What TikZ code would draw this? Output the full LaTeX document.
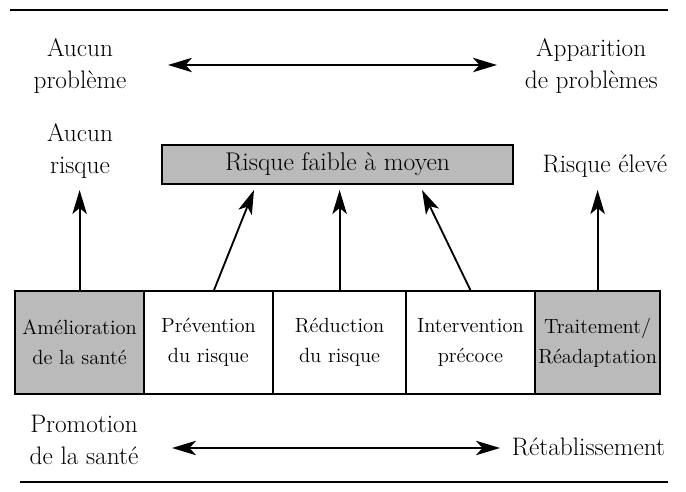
\documentclass[tikz,border=0pt]{standalone}
\usepackage{fontspec}
\usetikzlibrary{arrows.meta}
\colorlet{trame}{black!27}
\begin{document}
\begin{tikzpicture}[
    texte/.style={align=center, inner sep=2pt, font=\fontsize{18}{22.5}\selectfont},
    risque/.style={draw, line width=1.3pt, fill=trame, minimum width=8.775cm, minimum height=0.975cm, inner sep=0pt, font=\fontsize{18.2}{22}\selectfont},
    boite/.style={draw, line width=1.3pt, minimum height=2.575cm, inner sep=0pt, align=center, font=\fontsize{14.6}{21.5}\selectfont},
    fleche/.style={-{Stealth[length=6mm, width=3.6mm, inset=1.5mm]}, line width=1.3pt},
    bifleche/.style={{Stealth[length=6mm, width=3.6mm, inset=1.6mm]}-{Stealth[length=6mm, width=3.6mm, inset=1.6mm]}, line width=1.3pt}
]
    \useasboundingbox (0,0) rectangle (17.15,12.3);

    % Filets
    \draw[line width=1.3pt] (0.25,12.05) -- (16.7,12.05);
    \draw[line width=1pt] (0.5,0.25) -- (16.7,0.25);

    % Problemes
    \node[texte] (aucunpb) at (2.0,10.65) {Aucun\\problème};
    \node[texte] (apparition) at (14.78,10.65) {Apparition\\de problèmes};
    \coordinate (pb1) at (4.2,10.675);
    \coordinate (pb2) at (12.425,10.675);
    \draw[bifleche] (pb1) -- (pb2);

    % Niveaux de risque
    \node[texte] (aucunrq) at (2.0,8.525) {Aucun\\risque};
    \node[risque] (moyen) at (8.4375,8.1875) {Risque faible à moyen};
    \node[texte] (eleve) at (15.12,8.14) {Risque élevé};

    % Interventions
    \foreach \i/\x/\w/\f/\txt in {1/1.99/3.225/trame/{Amélioration\\de la santé},
                                  2/5.21/3.225/white/{Prévention\\du risque},
                                  3/8.49/3.325/white/{Réduction\\du risque},
                                  4/11.76/3.225/white/{Intervention\\précoce},
                                  5/14.94/3.125/trame/{Traitement/\\Réadaptation}} {
        \node[boite, fill=\f, minimum width=\w cm] (b\i) at (\x,3.7375) {\txt};
    }

    % Fleches vers les risques
    \foreach \i/\x in {1/1.99, 2/6.35, 3/8.49, 4/10.55, 5/14.94}
        \coordinate (h\i) at (\x,7.55);
    \foreach \i/\dx in {1/0, 2/0.14, 3/0, 4/0, 5/0}
        \draw[fleche] ([xshift=\dx cm]b\i.north) -- (h\i);

    % Promotion / retablissement
    \node[texte] (promotion) at (2.1,1.3) {Promotion\\de la santé};
    \node[texte, anchor=west] (retab) at (12.72,1.125) {Rétablissement};
    \coordinate (pr1) at (4.3,1.1);
    \coordinate (pr2) at (12.5,1.1);
    \draw[bifleche] (pr1) -- (pr2);
\end{tikzpicture}
\end{document}
